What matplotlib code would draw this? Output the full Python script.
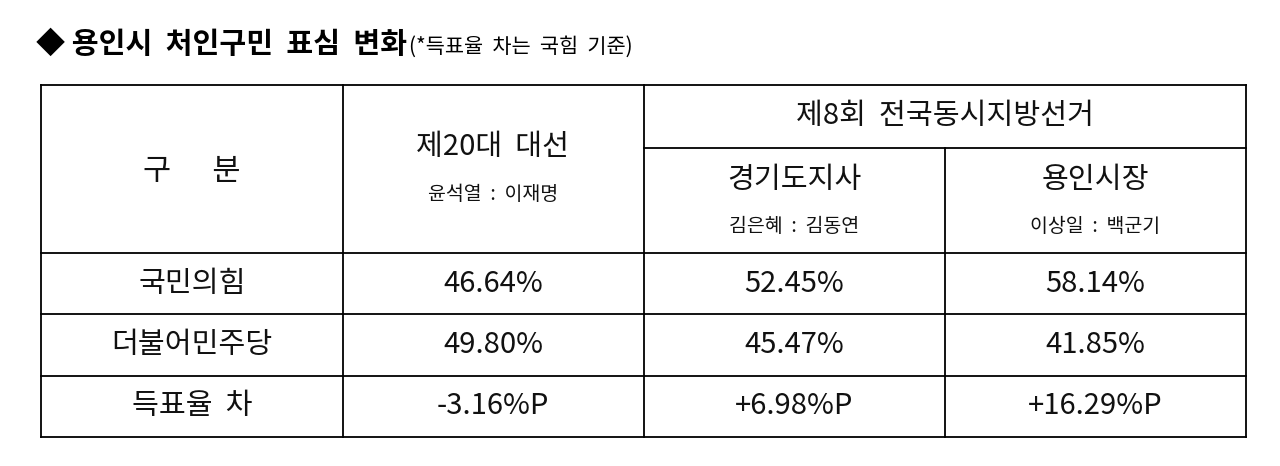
import matplotlib
matplotlib.use("Agg")
import matplotlib.pyplot as plt

plt.rcParams['font.family'] = ['Noto Sans CJK KR', 'DejaVu Sans']

title_bold = "◆ 용인시  처인구민  표심  변화"
title_note = "(*득표율  차는  국힘  기준)"
header_left = "구      분"
group_header = "제8회  전국동시지방선거"
col_titles = ["제20대  대선", "경기도지사", "용인시장"]
col_subs = ["윤석열  :  이재명", "김은혜  :  김동연", "이상일  :  백군기"]
row_labels = ["국민의힘", "더불어민주당", "득표율  차"]
ppp = ["46.64%", "52.45%", "58.14%"]
dem = ["49.80%", "45.47%", "41.85%"]
diff = ["-3.16%P", "+6.98%P", "+16.29%P"]

fig = plt.figure(figsize=(12.8, 4.66), dpi=100)
ax = fig.add_axes([0, 0, 1, 1])
ax.set_xlim(0, 1280); ax.set_ylim(466, 0); ax.axis('off')

ys = [85, 148, 253, 314, 376, 437]
lw = 1.3
for y in [85, 253, 314, 376, 437]:
    ax.plot([41, 1246], [y, y], color='black', lw=lw)
ax.plot([644, 1246], [148, 148], color='black', lw=lw)
for x in [41, 343, 644, 1246]:
    ax.plot([x, x], [85, 437], color='black', lw=lw)
ax.plot([945, 945], [148, 437], color='black', lw=lw)

t = ax.text(36, 44, title_bold, fontsize=21, fontweight='bold', va='center', ha='left')
fig.canvas.draw()
bb = t.get_window_extent()
ax.text(bb.x1 + 2, 47, title_note, fontsize=15, va='center', ha='left')

c = '#111111'
ax.text(192, 172, header_left, fontsize=22, ha='center', va='center', color=c)
ax.text(945, 116, group_header, fontsize=21, ha='center', va='center', color=c)
ax.text(493, 147, col_titles[0], fontsize=21, ha='center', va='center', color=c)
ax.text(493, 195, col_subs[0], fontsize=14, ha='center', va='center', color=c)
for i, cx in enumerate([794, 1095]):
    ax.text(cx, 180, col_titles[i+1], fontsize=21, ha='center', va='center', color=c)
    ax.text(cx, 227, col_subs[i+1], fontsize=14, ha='center', va='center', color=c)

centers = [493, 794, 1095]
for r, (lab, vals) in enumerate(zip(row_labels, [ppp, dem, diff])):
    cy = (ys[r+2] + ys[r+3]) / 2
    ax.text(192, cy, lab, fontsize=21, ha='center', va='center', color=c)
    for cx, v in zip(centers, vals):
        ax.text(cx, cy, v, fontsize=21, ha='center', va='center', color=c)

fig.savefig('out.png', dpi=100)
